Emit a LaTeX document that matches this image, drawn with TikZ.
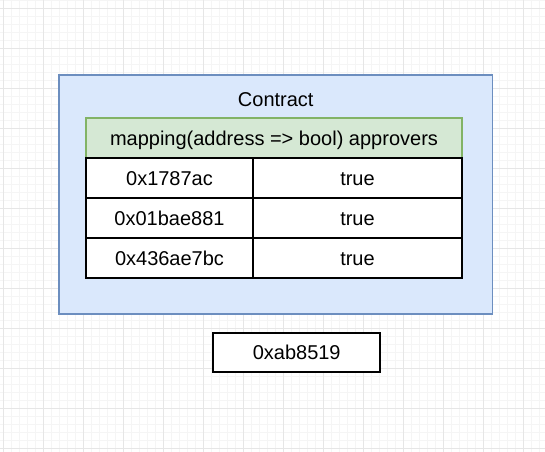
\documentclass[tikz,border=0pt]{standalone}
\usepackage{fontspec}
\setmainfont{Liberation Sans}
\definecolor{contractfill}{HTML}{DAE8FC}
\definecolor{contractline}{HTML}{6C8EBF}
\definecolor{mapfill}{HTML}{D5E8D4}
\definecolor{mapline}{HTML}{82B366}
\definecolor{gridmajor}{HTML}{E6E6E6}
\definecolor{gridminor}{HTML}{F5F5F5}
\begin{document}
\begin{tikzpicture}[x=1pt,y=-1pt,node distance=40pt,
	txt/.style={font=\fontsize{20}{24}\selectfont,text height=14.4pt,text depth=0pt},
	contract box/.style={draw=contractline,fill=contractfill,line width=1.7pt,minimum width=433.5pt,minimum height=239pt,inner sep=0pt},
	map head/.style={txt,draw=mapline,fill=mapfill,line width=1.7pt,minimum width=376pt,minimum height=40pt,inner sep=0pt},
	cell/.style={txt,draw=black,fill=white,line width=2pt,minimum height=40pt,inner sep=0pt}]

	\useasboundingbox (0,0) rectangle (545,451);
	\begin{scope}
		\clip (0,0) rectangle (545,451);
		\begin{scope}[shift={(3.3,8.3)}]
			\draw[gridminor,line width=0.8pt] (-16,-16) grid[step=8pt] (560,464);
			\draw[gridmajor,line width=1pt] (-40,-40) grid[step=40pt] (560,480);
		\end{scope}
	\end{scope}

	\node[contract box] (contract) at (275.75,194.5) {};
	\node[txt,inner sep=0pt] (title) at (275.75,99.5) {Contract};

	\node[map head] (map) at (274,138) {mapping(address => bool) approvers};

	\node[cell,minimum width=167pt] (k1) at (169.5,178) {0x1787ac};
	\node[cell,minimum width=167pt] (k2) [below of=k1] {0x01bae881};
	\node[cell,minimum width=167pt] (k3) [below of=k2] {0x436ae7bc};
	\node[cell,minimum width=209pt,node distance=188pt] (v1) [right of=k1] {true};
	\node[cell,minimum width=209pt,node distance=188pt] (v2) [right of=k2] {true};
	\node[cell,minimum width=209pt,node distance=188pt] (v3) [right of=k3] {true};

	\node[cell,minimum width=166.7pt,minimum height=39.6pt] (sender) at (296.7,352.5) {0xab8519};

\end{tikzpicture}
\end{document}
